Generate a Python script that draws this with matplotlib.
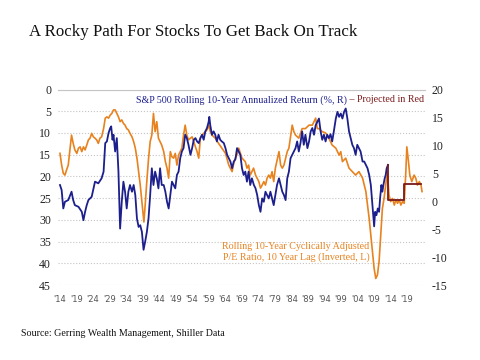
import matplotlib
matplotlib.use('Agg')
import matplotlib.pyplot as plt

plt.rcParams['font.family'] = ['Liberation Serif', 'DejaVu Serif']
plt.rcParams['axes.unicode_minus'] = False

# S&P 500 rolling 10-year annualized return (%), right axis
ret_years = [1914.0, 1914.5, 1915.0, 1915.5, 1916.5, 1917.5, 1918.0, 1918.5, 1919.6, 1920.6,
             1921.1, 1921.6, 1922.1, 1922.6, 1923.6, 1924.6, 1925.6, 1926.6, 1927.2, 1927.7,
             1928.2, 1928.7, 1929.2, 1929.5, 1929.9, 1930.2, 1930.7, 1931.2, 1931.7, 1932.2,
             1932.7, 1933.2, 1933.7, 1934.2, 1934.7, 1935.2, 1935.8, 1936.3, 1936.8, 1937.3,
             1937.8, 1938.3, 1938.8, 1939.3, 1939.8, 1940.3, 1940.8, 1941.3, 1941.8, 1942.3,
             1942.8, 1943.3, 1943.8, 1944.3, 1944.8, 1945.4, 1945.9, 1946.4, 1946.9, 1947.4,
             1947.9, 1948.4, 1948.9, 1949.4, 1949.9, 1950.4, 1950.9, 1951.4, 1951.9, 1952.4,
             1952.9, 1953.5, 1954.0, 1954.5, 1955.0, 1955.5, 1956.0, 1956.5, 1957.0, 1957.5,
             1958.0, 1958.5, 1959.0, 1959.2, 1959.5, 1960.0, 1960.5, 1961.0, 1961.5, 1962.0,
             1962.5, 1963.0, 1963.6, 1964.1, 1964.6, 1965.1, 1965.6, 1966.1, 1966.6, 1967.1,
             1967.6, 1968.1, 1968.6, 1969.1, 1969.6, 1970.1, 1970.6, 1971.1, 1971.6, 1972.1,
             1972.7, 1973.2, 1973.7, 1974.2, 1974.7, 1975.2, 1975.7, 1976.2, 1976.7, 1977.2,
             1977.7, 1978.2, 1978.7, 1979.2, 1979.7, 1980.3, 1980.8, 1981.3, 1981.8, 1982.3,
             1982.8, 1983.3, 1983.8, 1984.3, 1984.8, 1985.3, 1985.8, 1986.3, 1986.8, 1987.3,
             1987.8, 1988.3, 1988.9, 1989.4, 1989.9, 1990.4, 1990.9, 1991.4, 1991.9, 1992.4,
             1992.9, 1993.4, 1993.9, 1994.4, 1994.9, 1995.4, 1995.9, 1996.4, 1996.9, 1997.5,
             1998.0, 1998.5, 1999.0, 1999.5, 2000.0, 2000.5, 2001.0, 2001.5, 2002.0, 2002.5,
             2003.0, 2003.5, 2004.0, 2004.5, 2005.0, 2005.6, 2006.1, 2006.6, 2007.1, 2007.6,
             2008.1, 2008.6, 2009.1, 2009.4, 2009.8, 2010.2, 2010.6, 2010.9, 2011.3, 2011.6,
             2011.9, 2012.3, 2012.6, 2012.9, 2013.3]
ret_vals = [2.9, 2.0, -1.3, -0.1, 0.2, 1.7, 0.2, -0.7, -1.0, -1.9,
            -3.4, -1.9, -0.7, 0.2, 0.8, 3.5, 3.2, 4.1, 5.3, 10.4,
            10.7, 12.2, 13.1, 13.4, 11.0, 11.9, 8.9, 11.3, 5.3, -4.9,
            -0.1, 3.5, 1.7, -1.3, 1.7, 2.9, 1.7, 2.9, 1.1, -3.1,
            -4.6, -4.3, -5.5, -8.7, -7.2, -5.5, -3.1, 1.1, 5.9, 2.9,
            5.3, 4.1, 2.3, 5.9, 2.9, 2.9, 1.7, -0.1, -1.3, 1.1,
            3.5, 2.9, 2.3, 4.7, 5.3, 7.7, 8.9, 9.5, 11.9, 11.3,
            10.1, 8.3, 9.5, 11.0, 11.3, 10.7, 10.4, 11.3, 11.9, 11.0,
            12.5, 13.1, 14.2, 15.1, 13.6, 11.9, 12.5, 11.9, 10.7, 11.9,
            11.0, 10.7, 10.4, 9.5, 8.3, 7.7, 7.1, 5.9, 7.1, 7.5,
            9.5, 8.9, 8.3, 5.9, 4.7, 5.3, 3.5, 5.3, 2.9, 4.1,
            2.9, 2.3, 1.1, -0.7, -1.9, 0.5, -0.1, 1.7, 1.1, 0.5,
            1.7, 0.5, -0.7, 1.1, 2.9, 4.1, 2.9, 1.7, 1.1, 0.2,
            4.1, 5.3, 7.7, 8.3, 8.9, 9.5, 10.7, 8.9, 10.4, 12.5,
            10.1, 11.9, 9.5, 10.7, 12.5, 13.1, 11.9, 13.6, 14.2, 14.8,
            12.5, 11.0, 11.9, 10.7, 11.9, 11.3, 12.0, 10.7, 12.5, 14.8,
            16.0, 15.1, 15.7, 14.8, 16.0, 16.6, 14.8, 12.5, 11.3, 10.1,
            9.5, 8.3, 10.1, 9.5, 8.9, 7.1, 7.1, 6.5, 5.9, 4.7,
            2.9, -0.7, -4.5, -1.9, -2.5, -1.3, -1.9, 0.5, 2.9, 1.7,
            2.9, 4.1, 4.7, 5.9, 6.5]

# projected return (step line), right axis
proj_years = [2013.3, 2013.4, 2018.0, 2023.3]
proj_vals = [6.5, 0.2, 3.1, 3.1]

# CAPE with 10 year lag, left axis (inverted)
cape_years = [1914.0, 1914.5, 1915.0, 1915.5, 1916.0, 1916.5, 1917.0, 1917.5, 1918.0, 1918.5,
              1919.1, 1919.6, 1920.1, 1920.6, 1921.1, 1921.6, 1922.1, 1922.6, 1923.1, 1923.6,
              1924.1, 1924.6, 1925.1, 1925.6, 1926.1, 1926.6, 1927.2, 1927.7, 1928.2, 1928.7,
              1929.2, 1929.7, 1930.2, 1930.7, 1931.2, 1931.7, 1932.2, 1932.7, 1933.2, 1933.7,
              1934.2, 1934.7, 1935.2, 1935.8, 1936.3, 1936.8, 1937.3, 1937.8, 1938.3, 1938.8,
              1939.4, 1939.8, 1940.3, 1940.8, 1941.3, 1941.8, 1942.3, 1942.8, 1943.3, 1943.8,
              1944.3, 1944.8, 1945.4, 1945.9, 1946.4, 1946.9, 1947.4, 1947.9, 1948.4, 1948.9,
              1949.4, 1949.9, 1950.4, 1950.9, 1951.4, 1951.9, 1952.4, 1952.9, 1953.5, 1954.0,
              1954.5, 1955.0, 1955.5, 1956.0, 1956.5, 1957.0, 1957.5, 1958.0, 1958.5, 1959.0,
              1959.5, 1960.0, 1961.0, 1962.0, 1963.0, 1964.1, 1965.1, 1966.1, 1966.6, 1967.1,
              1967.6, 1968.1, 1969.1, 1970.1, 1970.6, 1971.1, 1971.6, 1972.1, 1972.6, 1973.2,
              1974.2, 1974.7, 1975.2, 1975.7, 1976.2, 1976.7, 1977.2, 1977.7, 1978.2, 1978.7,
              1979.2, 1980.3, 1980.8, 1981.3, 1981.8, 1982.8, 1983.3, 1984.3, 1984.8, 1985.3,
              1986.3, 1987.3, 1988.3, 1989.4, 1990.4, 1991.4, 1991.9, 1992.4, 1993.4, 1994.4,
              1995.4, 1996.4, 1997.5, 1998.5, 1999.0, 1999.5, 2000.5, 2001.5, 2002.5, 2003.5,
              2004.5, 2005.6, 2006.6, 2007.6, 2008.6, 2009.1, 2009.6, 2010.1, 2010.6, 2011.1,
              2011.6, 2012.1, 2012.6, 2013.1, 2013.6, 2014.1, 2014.7, 2015.2, 2015.7, 2016.2,
              2016.7, 2017.2, 2017.7, 2018.2, 2018.7, 2019.0, 2019.5, 2019.9, 2020.5, 2021.2,
              2021.7, 2022.2, 2022.8, 2023.3, 2023.6]
cape_vals = [14.7, 17.4, 19.3, 19.7, 18.5, 17.4, 13.9, 10.5, 12.4, 13.9,
             14.7, 13.5, 13.2, 14.3, 13.2, 13.9, 12.8, 11.6, 11.2, 10.1,
             10.9, 11.2, 11.6, 12.4, 11.2, 10.9, 9.0, 6.6, 6.3, 6.6,
             5.9, 5.5, 4.7, 4.7, 5.5, 6.3, 7.4, 7.0, 7.8, 8.2,
             9.0, 9.3, 10.1, 10.9, 12.0, 13.5, 15.8, 18.9, 22.0, 25.8,
             30.5, 26.5, 21.0, 16.0, 12.0, 10.5, 5.5, 9.7, 7.4, 11.2,
             12.0, 12.8, 14.3, 16.6, 18.1, 20.4, 14.3, 15.5, 15.8, 14.7,
             17.4, 15.1, 14.3, 13.5, 10.5, 8.2, 10.5, 11.6, 11.2, 10.9,
             12.0, 13.2, 14.3, 15.8, 11.2, 10.5, 10.1, 9.7, 9.3, 8.2,
             9.7, 10.5, 11.2, 12.4, 13.5, 14.7, 17.4, 18.9, 17.0, 15.8,
             15.0, 13.5, 15.8, 16.6, 18.1, 17.4, 19.7, 18.9, 18.1, 19.7,
             21.2, 22.7, 22.0, 21.2, 22.0, 20.4, 19.7, 20.4, 18.9, 21.2,
             18.1, 14.3, 17.4, 18.1, 17.4, 14.3, 13.5, 8.2, 9.7, 10.5,
             11.2, 9.0, 9.0, 8.2, 8.2, 6.6, 9.0, 9.0, 9.7, 10.0,
             11.2, 12.8, 13.5, 15.1, 14.3, 16.6, 15.8, 18.1, 18.9, 19.7,
             18.9, 20.4, 23.5, 29.7, 37.3, 41.2, 43.5, 42.7, 39.6, 33.5,
             27.4, 25.1, 22.0, 18.9, 24.3, 25.8, 25.1, 26.6, 25.4, 26.2,
             25.4, 26.6, 25.8, 26.2, 18.9, 13.2, 16.6, 19.7, 21.2, 19.7,
             20.4, 22.0, 21.2, 22.0, 23.5]

tick_years = list(range(1914, 2020, 5))
tick_labels = ["'%02d" % (y % 100) for y in tick_years]

navy = '#1c1f8c'
orange = '#e8821e'
dark_red = '#7a1a1a'
grid_col = '#c4c4c4'

fig = plt.figure(figsize=(4.8, 3.6), dpi=100)
ax = fig.add_axes([58 / 480, 1 - 285 / 360, (425 - 58) / 480, (285 - 89.5) / 360])
ax2 = ax.twinx()

ax.plot(cape_years, cape_vals, color=orange, lw=1.2, zorder=3)
ax.set_ylim(45, 0)
ax.set_yticks(range(0, 50, 5))
ax.set_xlim(1913.4, 2024.5)
ax.set_xticks(tick_years)
ax.set_xticklabels(tick_labels, family='DejaVu Sans', fontsize=6, color='#555555')
ax.grid(axis='y', linestyle=':', color=grid_col, lw=0.8)
ax.tick_params(axis='y', length=0, pad=5, labelsize=8.5, colors='#222222')
ax.tick_params(axis='x', length=0, pad=7)

ax2.plot(ret_years, ret_vals, color=navy, lw=1.3)
ax2.plot(proj_years, proj_vals, color=dark_red, lw=1.3, drawstyle='steps-post')
ax2.set_ylim(-15, 20)
ax2.set_yticks(range(-15, 25, 5))
ax2.tick_params(axis='y', length=0, pad=5, labelsize=8.5, colors='#222222')

for a in (ax, ax2):
    for s in a.spines.values():
        s.set_visible(False)
ax.spines['top'].set_visible(True)
ax.spines['top'].set_color(grid_col)

fig.text(29 / 480, 1 - 32 / 360, 'A Rocky Path For Stocks To Get Back On Track',
         fontsize=12.2, va='center', color='#111111')
fig.text(21 / 480, 1 - 333 / 360, 'Source: Gerring Wealth Management, Shiller Data',
         fontsize=7.2, va='center', color='#111111')

# two-colour label at top right
red_txt = fig.text(424 / 480, 1 - 100 / 360, ' \u2013 Projected in Red', color=dark_red,
                   fontsize=7.2, ha='right', va='center')
fig.canvas.draw()
bb = red_txt.get_window_extent()
fig.text(bb.x0 / fig.bbox.width, 1 - 100 / 360, 'S&P 500 Rolling 10-Year Annualized Return (%, R)',
         color=navy, fontsize=7.2, ha='right', va='center')

fig.text(296 / 480, 1 - 252 / 360,
         'Rolling 10-Year Cyclically Adjusted\nP/E Ratio, 10 Year Lag (Inverted, L)',
         color=orange, fontsize=7.2, ha='center', va='center', linespacing=1.1)

fig.savefig('out.png', dpi=100)
